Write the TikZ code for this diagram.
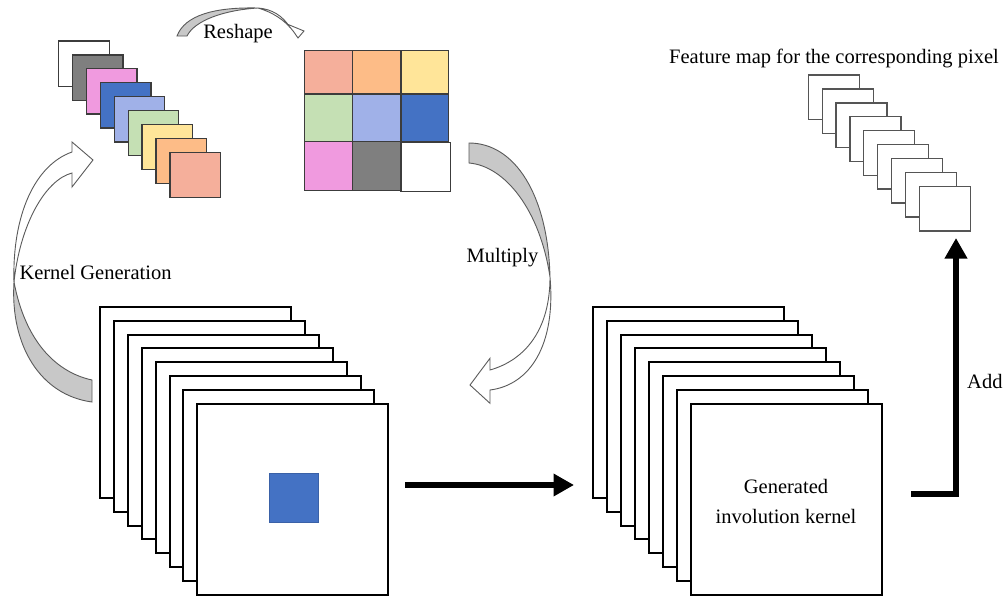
\documentclass[tikz,border=0pt]{standalone}
\usepackage{fontspec}
\setmainfont{Liberation Serif}
\newfontfamily\lblfont{Liberation Serif}
\usetikzlibrary{arrows.meta}

\definecolor{ksalmon}{RGB}{245,175,155}
\definecolor{korange}{RGB}{253,188,135}
\definecolor{kyellow}{RGB}{255,229,153}
\definecolor{kgreen}{RGB}{197,224,180}
\definecolor{klblue}{RGB}{160,177,232}
\definecolor{kblue}{RGB}{68,114,196}
\definecolor{kpink}{RGB}{240,154,223}
\definecolor{kgray}{RGB}{127,127,127}
\definecolor{tileedge}{RGB}{60,60,60}
\definecolor{fmapedge}{RGB}{85,85,85}
\definecolor{bandgray}{RGB}{200,200,200}
\definecolor{bandedge}{RGB}{90,90,90}

\begin{document}
\begin{tikzpicture}[x=1pt,y=-1pt,
  lbl/.style={font=\lblfont\fontsize{20.5pt}{24pt}\selectfont, inner sep=0pt},
  layer/.style={draw=black, line width=2pt, fill=white, inner sep=0pt, outer sep=0pt,
    minimum width=191pt, minimum height=191pt, anchor=north west},
  tile/.style={draw=tileedge, line width=1.3pt, inner sep=0pt, outer sep=0pt,
    minimum width=50.5pt, minimum height=45.3pt, anchor=north west},
  fmap/.style={draw=fmapedge, line width=1.2pt, fill=white, inner sep=0pt, outer sep=0pt,
    minimum width=51pt, minimum height=44.3pt, anchor=north west},
  cell/.style={draw=tileedge, line width=1.3pt},
  bigarrow/.style={line width=6.7pt, line join=miter,
    -{Triangle[length=20.5pt,width=21.5pt]}},
  bandfront/.style={draw=bandedge, line width=0.9pt, fill=white},
  bandback/.style={draw=bandedge, line width=0.9pt, fill=bandgray},
]
\useasboundingbox (0,0) rectangle (1005,595);

% ---- stack of generated kernel slices (top left)
\foreach \c [count=\i from 0] in {white,kgray,kpink,kblue,klblue,kgreen,kyellow,korange,ksalmon}
  \node[tile, fill=\c] (k\i) at ({58.7+13.9*\i},{41+13.9*\i}) {};

% ---- reshaped 3x3 kernel
\filldraw[cell, fill=ksalmon] (304.7,50.7) rectangle (352.7,94);
\filldraw[cell, fill=korange] (352.7,50.7) rectangle (401,94);
\filldraw[cell, fill=kyellow] (401,50.7) rectangle (448.7,94);
\filldraw[cell, fill=kgreen] (304.7,94) rectangle (352.7,141.7);
\filldraw[cell, fill=klblue] (352.7,94) rectangle (401,141.7);
\filldraw[cell, fill=kblue] (401,94) rectangle (448.7,141.7);
\filldraw[cell, fill=kpink] (304.7,141.7) rectangle (352.7,190.7);
\filldraw[cell, fill=kgray] (352.7,141.7) rectangle (401,190.7);
\filldraw[cell, fill=white] (401,142.7) rectangle (450.7,191.7);

% ---- input feature map stack with the current pixel
\foreach \i in {0,...,7}
  \node[layer] (in\i) at ({100+13.9*\i},{306.7+13.9*\i}) {};
\node[fill=kblue, draw=kblue!85!black, line width=0.6pt, inner sep=0pt, outer sep=0pt,
  minimum width=48.5pt, minimum height=48.5pt, anchor=north west] (pix) at (269.3,473.3) {};

% ---- generated involution kernel stack
\foreach \i in {0,...,7}
  \node[layer] (gen\i) at ({593.3+13.9*\i},{306.7+13.9*\i}) {};
\node[lbl, anchor=base] (genA) at (786,493) {Generated};
\node[lbl, anchor=base] (genB) at (786,523) {involution kernel};

% ---- output feature map for the pixel
\foreach \i in {0,...,8}
  \node[fmap] (f\i) at ({808.3+13.875*\i},{75+13.95*\i}) {};
\node[lbl, anchor=base] (ftitle) at (834,63.5) {Feature map for the corresponding pixel};

% ---- straight connectors
\coordinate (hs) at (405,485);
\coordinate (he) at (574,485);
\draw[bigarrow] (hs) -- (he);

\coordinate (as) at (911,494);
\coordinate (ac) at (956,494);
\coordinate (ae) at (956,238);
\draw[bigarrow] (as) -- (ac) -- (ae);
\node[lbl, anchor=base west] (add) at (967,388) {Add};

% ---- curved arrow: kernel generation
\path[bandback] (92,380) .. controls (55,372) and (25,340) .. (14,282)
  .. controls (10,345) and (40,395) .. (92,402) -- cycle;
\path[bandfront] (14,282) .. controls (12,215) and (35,165) .. (72,152)
  -- (72,142) -- (93,160) -- (72,187) -- (72,173)
  .. controls (45,180) and (20,225) .. (14,282) -- cycle;
\node[lbl, anchor=base] (kgen) at (95.5,279) {Kernel Generation};

% ---- curved arrow: multiply
\path[bandback] (469,143) .. controls (515,143) and (548,195) .. (550,277)
  .. controls (540,210) and (505,166) .. (469,163) -- cycle;
\path[bandfront] (550,277) .. controls (550,330) and (525,360) .. (490,370)
  -- (490,358.3) -- (470,385) -- (490,403.3) -- (490,390)
  .. controls (530,385) and (556,345) .. (550,277) -- cycle;
\node[lbl, anchor=base] (mult) at (502.5,262) {Multiply};

% ---- curved arrow: reshape
\path[bandback] (177,36) .. controls (185,15) and (215,7) .. (258,8)
  .. controls (225,10) and (195,20) .. (187,36) -- cycle;
\path[bandfront] (258,8) .. controls (272,9) and (283,16) .. (290,27.5)
  -- (287,24) -- (304,31) -- (298,38) -- (293.5,31.5)
  .. controls (285,20) and (272,12) .. (258,8) -- cycle;
\node[lbl, anchor=base] (resh) at (238,38) {Reshape};

\end{tikzpicture}
\end{document}
